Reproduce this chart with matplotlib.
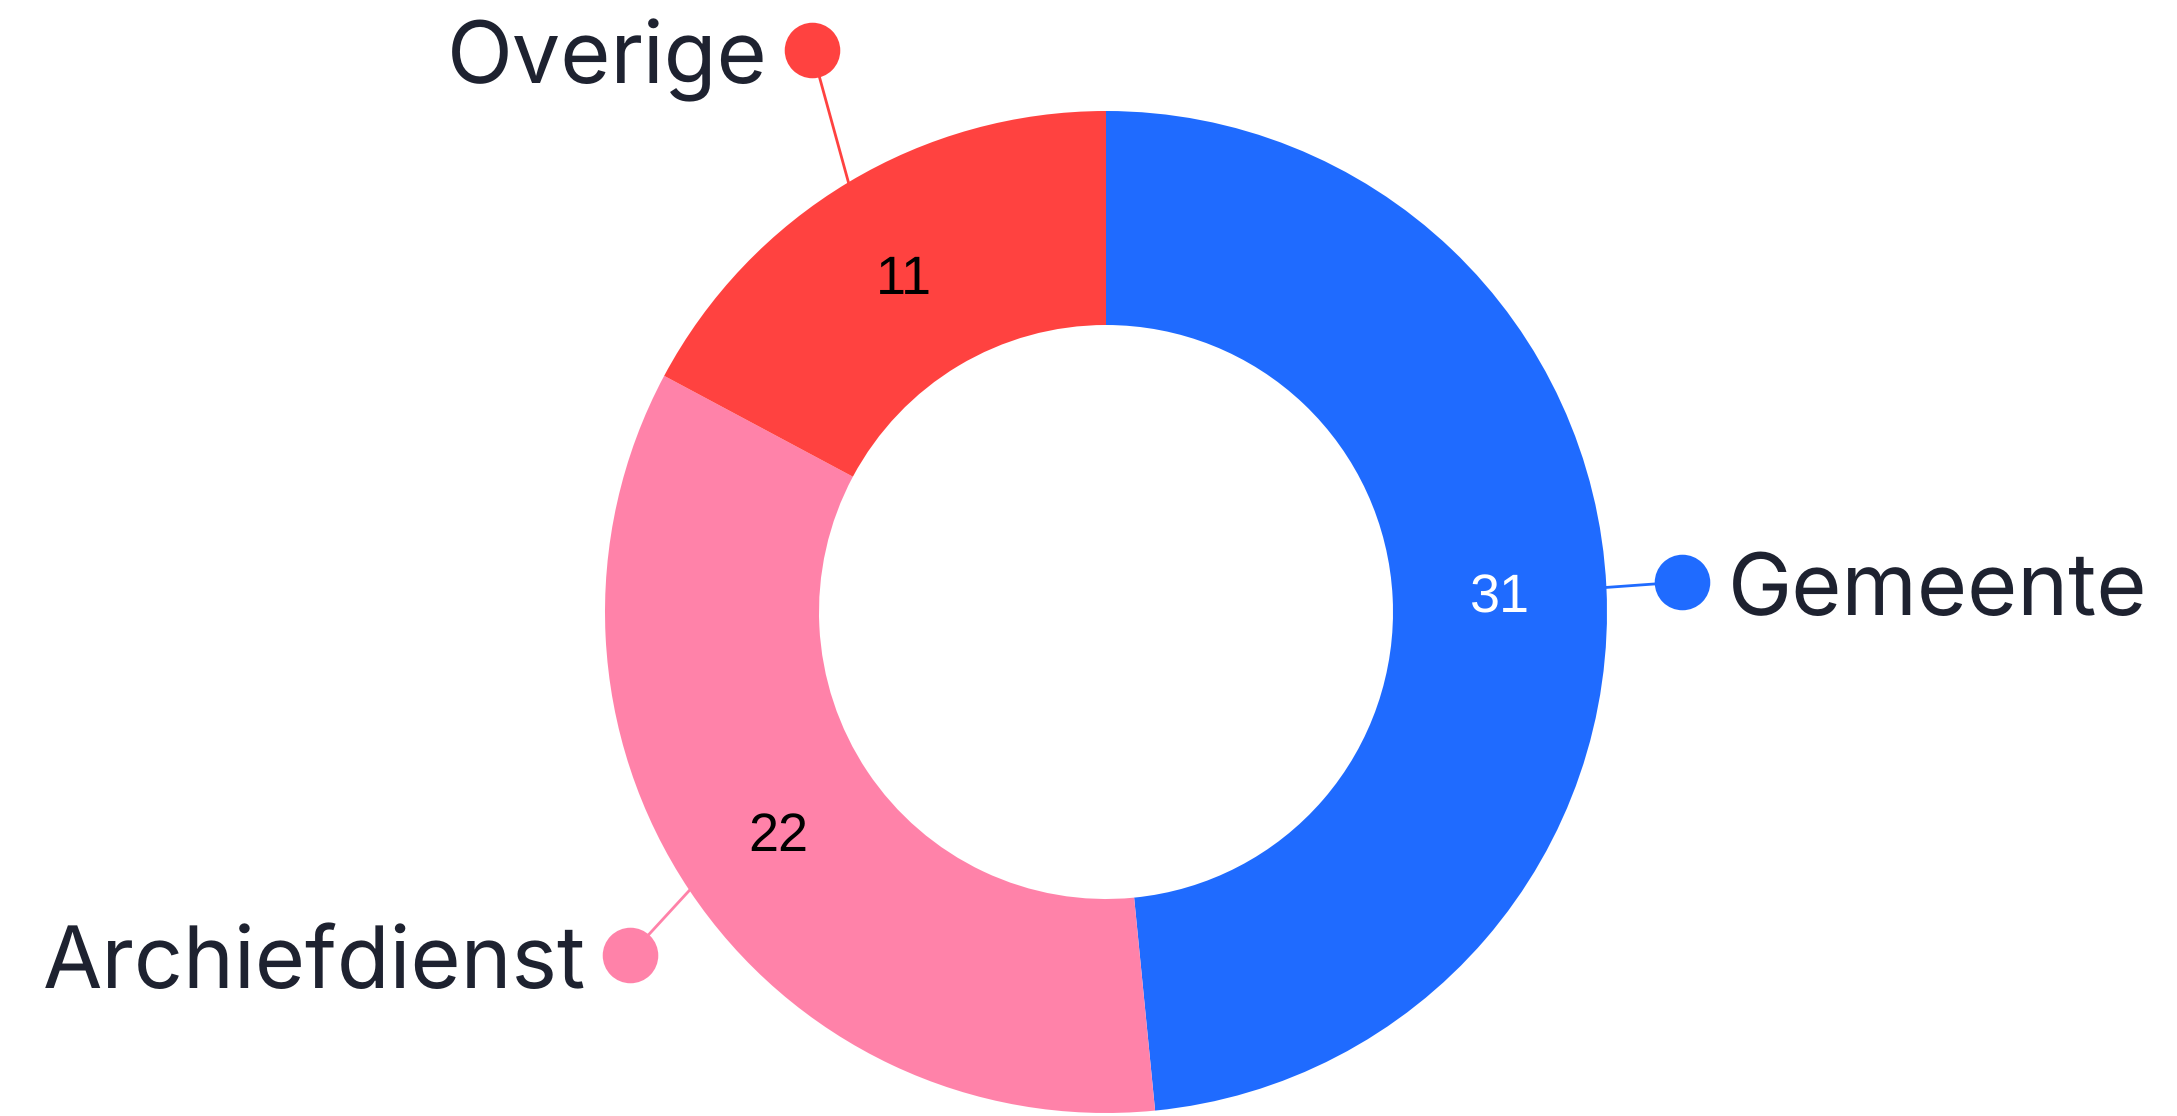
import numpy as np
import matplotlib.pyplot as plt

plt.rcParams["text.hinting"] = "no_hinting"
plt.rcParams["text.hinting_factor"] = 1

# data
categories = ["Gemeente", "Archiefdienst", "Overige"]
values = [31, 22, 11]
colors = ["#1F6BFF", "#FF82A9", "#FF4240"]
value_text_colors = ["white", "black", "black"]

W, H = 2177, 1116
cx, cy = 1106, H - 612
R_out, R_in = 501, 287

fig = plt.figure(figsize=(W / 100, H / 100), dpi=100)
ax = fig.add_axes([0, 0, 1, 1])

wedges, _ = ax.pie(values, colors=colors, startangle=90, counterclock=False,
                   center=(cx, cy), radius=R_out,
                   wedgeprops=dict(width=R_out - R_in, edgecolor="none"))

# pie() resets the limits, so set them afterwards
ax.set_xlim(0, W)
ax.set_ylim(0, H)
ax.set_aspect("equal")
ax.axis("off")

# value labels in the middle of the ring (baseline placed so digits are centred)
r_mid = (R_out + R_in) / 2
for w, v, tc in zip(wedges, values, value_text_colors):
    ang = np.deg2rad((w.theta1 + w.theta2) / 2)
    ax.text(cx + r_mid * np.cos(ang), cy + r_mid * np.sin(ang) - 20, str(v),
            ha="center", va="baseline", fontsize=39, color=tc,
            family=["Liberation Sans", "Roboto"])

# outside labels: dot + connector line (dot offset from centre, label side)
dot_offsets = [(576, 30), (-476, -343), (-294, 562)]
sides = ["right", "left", "left"]
text_dark = "#1E2230"
for w, name, col, (dx, dy), side in zip(wedges, categories, colors, dot_offsets, sides):
    ang = np.deg2rad((w.theta1 + w.theta2) / 2)
    x0, y0 = cx + R_out * np.cos(ang), cy + R_out * np.sin(ang)
    xd, yd = cx + dx, cy + dy
    ax.plot([x0, xd], [y0, yd], color=col, lw=2, zorder=3)
    ax.scatter([xd], [yd], s=1600, color=col, zorder=4, linewidths=0)
    if side == "right":
        ax.text(xd + 46, yd - 33, name, ha="left", va="baseline", fontsize=62,
                color=text_dark, family=["Inter", "Roboto"])
    else:
        ax.text(xd - 44, yd - 33, name, ha="right", va="baseline", fontsize=62,
                color=text_dark, family=["Inter", "Roboto"])

fig.savefig("out.png", dpi=100, facecolor="white")
